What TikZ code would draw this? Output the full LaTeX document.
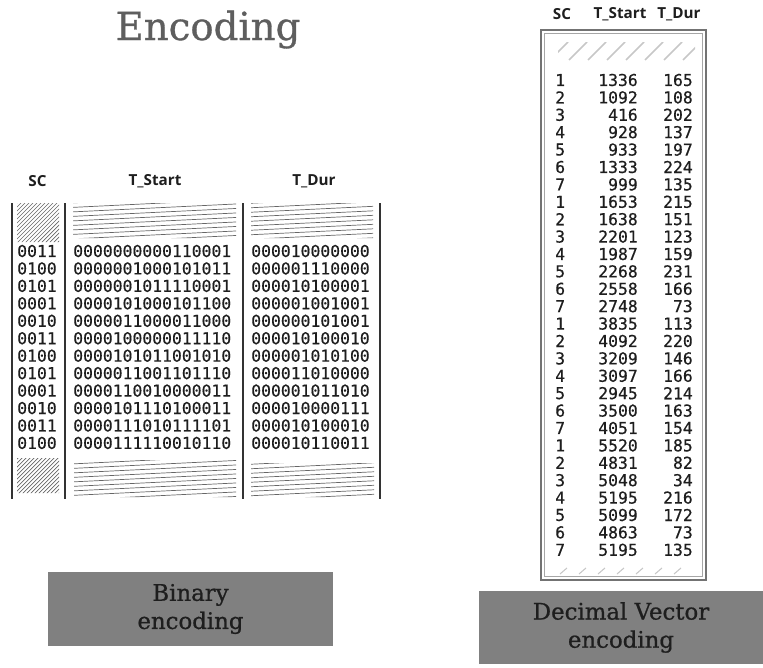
\documentclass[tikz,border=0pt]{standalone}
\usepackage{fontspec}
\setmainfont{DejaVu Serif}[FakeBold=0.8]
\newfontfamily\headfont{Open Sans}
\newfontfamily\digitfont{DejaVu Sans Mono}[FakeBold=0.5]
\usepackage{xcolor}
\usepackage{tikz}
\definecolor{titlegray}{HTML}{5E5E5E}
\definecolor{boxgray}{HTML}{808080}
\definecolor{inkgray}{HTML}{1E1E1E}

\begin{document}
\begin{tikzpicture}[x=0.3mm, y=-0.3mm,
  titletext/.style={text=titlegray, font=\fontsize{33}{36}\selectfont, inner sep=0pt},
  head/.style={text=inkgray, font=\headfont\bfseries\fontsize{13}{15}\selectfont, inner sep=0pt},
  cell/.style={text=inkgray, font=\digitfont\fontsize{14}{16}\selectfont, inner sep=0pt},
  vline/.style={draw=black!80, line width=1.3pt},
  hatch/.style={draw=black!60, line width=0.6pt},
  lighthatch/.style={draw=black!22, line width=1.3pt},
  tagbox/.style={fill=boxgray, text=inkgray, font=\fontsize{19.5}{24}\selectfont, align=center, inner sep=0pt},
  outerframe/.style={draw=black!55, line width=1.2pt},
  innerframe/.style={draw=black!35, line width=0.8pt}
]
\useasboundingbox (0,0) rectangle (763,668);

\node[titletext, anchor=base] (title) at (208,40) {Encoding};

% binary table
\node[head] (bsc) at (37.5,181) {SC};
\node[head] (bstart) at (155,181) {T\_Start};
\node[head] (bdur) at (314,181) {T\_Dur};
\foreach \x in {12,65,243,380}
  \draw[vline] (\x,203) -- (\x,499);

\begin{scope}
  \clip (17,203) rectangle (59,242) (17,458) rectangle (59,493);
  \foreach \k in {-300,-296,...,100}
    \draw[hatch] (\k,500) -- ++(300,-300);
\end{scope}
\begin{scope}
  \clip (73,203) rectangle (236,238) (251,203) rectangle (373,238)
        (74,460) rectangle (236,497) (251,463) rectangle (374,497);
  \foreach \k in {190,194.5,...,520}
    \draw[hatch] (60,\k) -- (390,\k-16);
\end{scope}

\foreach \sc/\ts/\td [count=\i] in {
  0011/0000000000110001/000010000000, 0100/0000001000101011/000001110000,
  0101/0000001011110001/000010100001, 0001/0000101000101100/000001001001,
  0010/0000011000011000/000000101001, 0011/0000100000011110/000010100010,
  0100/0000101011001010/000001010100, 0101/0000011001101110/000011010000,
  0001/0000110010000011/000001011010, 0010/0000101110100011/000010000111,
  0011/0000111010111101/000010100010, 0100/0000111110010110/000010110011} {
  \pgfmathsetmacro\yy{251+17.45*(\i-1)}
  \node[cell, anchor=west] (bsc\i) at (17,\yy) {\sc};
  \node[cell, anchor=west] (bstart\i) at (73,\yy) {\ts};
  \node[cell, anchor=west] (bdur\i) at (251,\yy) {\td};
}

% decimal table
\node[head] (dsc) at (562,14) {SC};
\node[head] (dstart) at (620,14) {T\_Start};
\node[head] (ddur) at (679,14) {T\_Dur};
\draw[outerframe] (541,30) rectangle (706,580);
\draw[innerframe] (544.5,33.5) rectangle (702.5,576.5);

\begin{scope}
  \clip (558,42) rectangle (695,60);
  \foreach \x in {550,569,...,700}
    \draw[lighthatch] (\x,60) -- ++(18,-18);
\end{scope}
\foreach \x in {560,579,...,690}
  \draw[lighthatch, line width=0.9pt] (\x,574) -- ++(7,-6);

\foreach \sc/\ts/\td [count=\i] in {
  1/1336/165, 2/1092/108, 3/416/202, 4/928/137, 5/933/197, 6/1333/224, 7/999/135,
  1/1653/215, 2/1638/151, 3/2201/123, 4/1987/159, 5/2268/231, 6/2558/166, 7/2748/73,
  1/3835/113, 2/4092/220, 3/3209/146, 4/3097/166, 5/2945/214, 6/3500/163, 7/4051/154,
  1/5520/185, 2/4831/82, 3/5048/34, 4/5195/216, 5/5099/172, 6/4863/73, 7/5195/135} {
  \pgfmathsetmacro\yy{80+17.4*(\i-1)}
  \node[cell, anchor=west] (dsc\i) at (555,\yy) {\sc};
  \node[cell, anchor=east] (dstart\i) at (638,\yy) {\ts};
  \node[cell, anchor=east] (ddur\i) at (693,\yy) {\td};
}

% captions
\node[tagbox, minimum width=85.5mm, minimum height=22.2mm] (binlabel) at (190.5,609) {Binary\\encoding};
\node[tagbox, minimum width=85.2mm, minimum height=21.9mm] (declabel) at (621,627.5) {Decimal Vector\\encoding};
\end{tikzpicture}
\end{document}
